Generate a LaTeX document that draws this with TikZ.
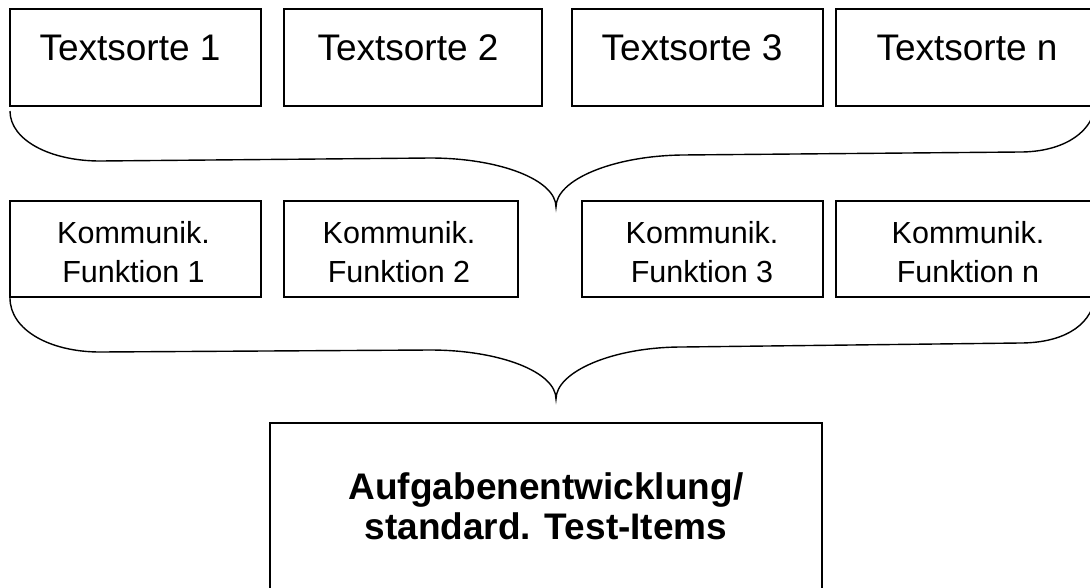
\documentclass[tikz,border=0pt]{standalone}
\usepackage{fontspec}
\setmainfont{Liberation Sans}
\begin{document}
\begin{tikzpicture}[x=1pt,y=-1pt,
  box/.style={draw=black, line width=1.2pt, anchor=north west, inner sep=0pt, outer sep=0pt},
  toplabel/.style={font=\fontsize{37}{44}\selectfont, anchor=base, inner sep=0pt},
  midlabel/.style={font=\fontsize{30.5}{39}\selectfont, anchor=base, align=center, inner sep=0pt},
  botlabel/.style={font=\bfseries\fontsize{37}{39.5}\selectfont, anchor=base, align=center, inner sep=0pt},
  brace/.style={draw=black, line width=1.4pt}]
\useasboundingbox (0,0) rectangle (1090,587);
\clip (0,0) rectangle (1090,587);
% top row
\node[box, minimum width=251pt, minimum height=97pt] (t1) at (10,9) {};
\node[box, minimum width=258pt, minimum height=97pt] (t2) at (284,9) {};
\node[box, minimum width=251pt, minimum height=97pt] (t3) at (572,9) {};
\node[box, minimum width=270pt, minimum height=97pt] (t4) at (836,9) {};
\node[toplabel] (t1l) at (130,60) {Textsorte 1};
\node[toplabel] (t2l) at (408,60) {Textsorte 2};
\node[toplabel] (t3l) at (692,60) {Textsorte 3};
\node[toplabel] (t4l) at (967,60) {Textsorte n};
% top brace
\draw[brace] (10,111) .. controls (10,140) and (50,161) .. (100,161) -- (430,158)
  .. controls (500,158) and (556,180) .. (556,207)
  .. controls (556,180) and (612,156) .. (682,155) -- (1020,152)
  .. controls (1060,152) and (1090,135) .. (1095,108);
% middle row
\node[box, minimum width=251pt, minimum height=96pt] (m1) at (10,201) {};
\node[box, minimum width=234pt, minimum height=96pt] (m2) at (284,201) {};
\node[box, minimum width=241pt, minimum height=96pt] (m3) at (582,201) {};
\node[box, minimum width=270pt, minimum height=96pt] (m4) at (836,201) {};
\node[midlabel] (m1l) at (133.5,282) {Kommunik.\\Funktion 1};
\node[midlabel] (m2l) at (399,282) {Kommunik.\\Funktion 2};
\node[midlabel] (m3l) at (702,282) {Kommunik.\\Funktion 3};
\node[midlabel] (m4l) at (968,282) {Kommunik.\\Funktion n};
% middle brace
\draw[brace] (10,298) .. controls (10,330) and (50,352) .. (100,352) -- (430,350)
  .. controls (500,350) and (556,372) .. (556,399)
  .. controls (556,372) and (612,347) .. (682,347) -- (1020,343)
  .. controls (1060,343) and (1090,328) .. (1095,298);
% bottom box
\node[box, minimum width=552pt, minimum height=200pt] (b) at (270,423) {};
\node[botlabel] (bl) at (546,539) {Aufgabenentwicklung/\\standard. Test-Items};
\end{tikzpicture}
\end{document}
